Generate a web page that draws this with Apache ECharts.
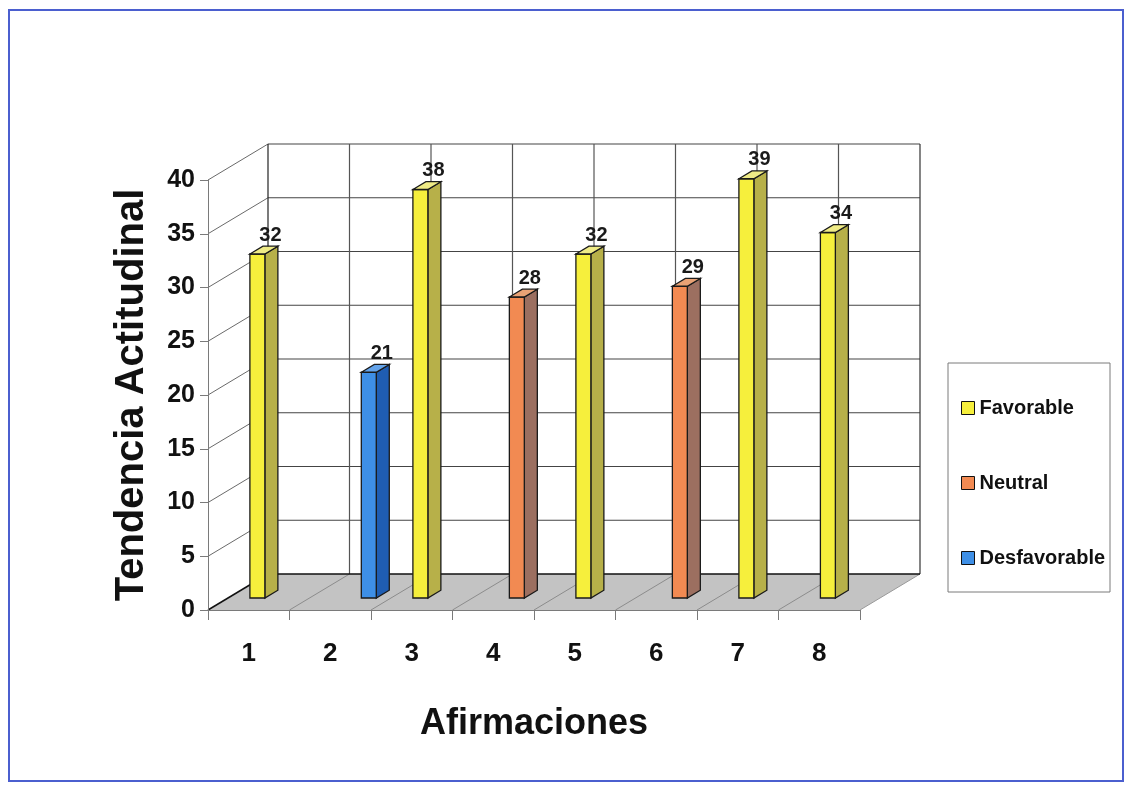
<!DOCTYPE html>
<html>
<head>
<meta charset="utf-8">
<script src="https://cdn.jsdelivr.net/npm/echarts@6/dist/echarts.min.js"></script>
<style>
html,body{margin:0;padding:0;background:#fff;}
#chart{width:1128px;height:785px;}
</style>
</head>
<body>
<div id="chart"></div>
<script>
// ---- data ----
const categories = ['1', '2', '3', '4', '5', '6', '7', '8'];
const favorable = [32, null, 38, null, 32, null, 39, 34];
const neutral = [null, null, null, 28, null, 29, null, null];
const desfavorable = [null, 21, null, null, null, null, null, null];
const yTicks = [0, 5, 10, 15, 20, 25, 30, 35, 40];
const seriesNames = ['Favorable', 'Neutral', 'Desfavorable'];

// ---- style ----
const FONT = "'Liberation Sans Narrow','Arial Narrow','Liberation Sans',Arial,sans-serif";
const DX = 60, DY = -36;        // depth projection of the floor
const F0 = 0.333, F1 = 0.55;    // bar front / back depth fractions
const SLOT_W = 0.1835, SLOT_START = -0.231;
const palette = [
  { front: '#f6ef3c', side: '#b7b049', top: '#efeb86' },
  { front: '#f28a52', side: '#9c6f60', top: '#e9a275' },
  { front: '#3e8fe6', side: '#1f5db2', top: '#63a3ea' }
];

function toData(arr) {
  const out = [];
  arr.forEach((v, i) => { if (v !== null) out.push([i, v]); });
  return out;
}

function frameRender(params, api) {
  const cs = params.coordSys;
  const x0 = cs.x, x1 = cs.x + cs.width;
  const yb = api.coord([0, yTicks[0]])[1];
  const yt = api.coord([0, yTicks[yTicks.length - 1]])[1];
  const n = categories.length, band = cs.width / n;
  const ch = [];
  const line = (a, b, c, d, stroke, w) => ch.push({ type: 'line', shape: { x1: a, y1: b, x2: c, y2: d }, style: { stroke: stroke, lineWidth: w || 1 } });
  // floor
  ch.push({ type: 'polygon', shape: { points: [[x0, yb], [x1, yb], [x1 + DX, yb + DY], [x0 + DX, yb + DY]] }, style: { fill: '#c3c3c3' } });
  for (let i = 1; i < n; i++) line(x0 + i * band, yb, x0 + i * band + DX, yb + DY, '#8c8c8c', 1);
  line(x1, yb, x1 + DX, yb + DY, '#9a9a9a', 1);
  // back wall grid
  yTicks.forEach((t, k) => {
    const y = api.coord([0, t])[1];
    if (k > 0) {
      line(x0 + DX, y + DY, x1 + DX, y + DY, '#444', 1.2);
      line(x0, y, x0 + DX, y + DY, '#6a6a6a', 1);
    }
  });
  for (let i = 1; i < n; i++) line(x0 + i * band + DX, yt + DY, x0 + i * band + DX, yb + DY, '#555', 1.2);
  // edges
  line(x0 + DX, yt + DY, x0 + DX, yb + DY, '#222', 1.2);
  line(x1 + DX, yt + DY, x1 + DX, yb + DY, '#333', 1.2);
  line(x0 + DX, yb + DY, x1 + DX, yb + DY, '#111', 1.5);
  line(x0, yb, x0 + DX, yb + DY, '#111', 1.5);
  return { type: 'group', children: ch };
}

function barRender(slot) {
  return function (params, api) {
    const idx = api.value(0), v = api.value(1);
    const base = api.coord([idx, 0]);
    const top = api.coord([idx, v]);
    const band = api.size([1, 0])[0];
    const L = base[0] + band * (SLOT_START + SLOT_W * slot);
    const R = L + band * SLOT_W;
    const dx0 = DX * F0, dy0 = DY * F0, dx1 = DX * F1, dy1 = DY * F1;
    const c = palette[slot];
    const st = (fill) => ({ fill: fill, stroke: '#1a1a1a', lineWidth: 1.3 });
    return {
      type: 'group',
      children: [
        { type: 'polygon', shape: { points: [[R + dx0, top[1] + dy0], [R + dx1, top[1] + dy1], [R + dx1, base[1] + dy1], [R + dx0, base[1] + dy0]] }, style: st(c.side) },
        { type: 'polygon', shape: { points: [[L + dx0, top[1] + dy0], [R + dx0, top[1] + dy0], [R + dx0, base[1] + dy0], [L + dx0, base[1] + dy0]] }, style: st(c.front) },
        { type: 'polygon', shape: { points: [[L + dx0, top[1] + dy0], [R + dx0, top[1] + dy0], [R + dx1, top[1] + dy1], [L + dx1, top[1] + dy1]] }, style: st(c.top) },
        { type: 'text', x: (L + R) / 2 + dx1, y: top[1] + dy1 - 1, style: { text: String(v), fontSize: 20, fontWeight: 'bold', fontFamily: FONT, fill: '#1a1a1a', align: 'center', verticalAlign: 'bottom' } }
      ]
    };
  };
}

const chart = echarts.init(document.getElementById('chart'), null, { renderer: 'canvas' });
const seriesArrays = [favorable, neutral, desfavorable];

const option = {
  animation: false,
  backgroundColor: '#ffffff',
  grid: { left: 208, right: 268, top: 180, bottom: 175 },
  xAxis: {
    type: 'category', data: categories, boundaryGap: true, z: 10,
    axisLine: { lineStyle: { color: '#7a7a7a', width: 1 } },
    axisTick: { show: true, length: 10, lineStyle: { color: '#7a7a7a' } },
    axisLabel: { margin: 31, fontSize: 26, fontWeight: 'bold', color: '#111', fontFamily: FONT },
    splitLine: { show: false },
    name: 'Afirmaciones', nameLocation: 'middle', nameGap: 96,
    nameTextStyle: { fontSize: 36, fontWeight: 'bold', color: '#111', fontFamily: FONT }
  },
  yAxis: {
    type: 'value', min: 0, max: 40, interval: 5, z: 10,
    axisLine: { show: true, lineStyle: { color: '#7a7a7a', width: 1 } },
    axisTick: { show: true, length: 8, lineStyle: { color: '#7a7a7a' } },
    axisLabel: { margin: 13, fontSize: 25, fontWeight: 'bold', color: '#111', fontFamily: FONT },
    splitLine: { show: false },
    name: 'Tendencia Actitudinal', nameLocation: 'middle', nameGap: 56, nameRotate: 90,
    nameTextStyle: { fontSize: 40, fontWeight: 'bold', color: '#111', fontFamily: FONT }
  },
  legend: {
    orient: 'vertical', left: 956, top: 393, itemGap: 55,
    itemWidth: 13, itemHeight: 13, icon: 'rect',
    data: seriesNames,
    itemStyle: { borderColor: '#111', borderWidth: 1 },
    textStyle: { fontSize: 20, fontWeight: 'bold', color: '#111', fontFamily: FONT, lineHeight: 20 }
  },
  graphic: [
    { type: 'rect', x: 9, y: 10, shape: { width: 1114, height: 771 }, style: { fill: 'none', stroke: '#4b5fcf', lineWidth: 2 }, z: 100 },
    { type: 'rect', x: 948, y: 363, shape: { width: 162, height: 229 }, style: { fill: 'none', stroke: '#7a7a7a', lineWidth: 1 }, z: 100 }
  ],
  series: [
    { type: 'custom', name: '_frame', renderItem: frameRender, data: [[0, 0]], z: 1, silent: true, clip: false, legendHoverLink: false }
  ].concat(seriesArrays.map((arr, s) => ({
    type: 'custom', name: seriesNames[s], renderItem: barRender(s), data: toData(arr),
    encode: { x: 0, y: 1 }, z: 3, clip: false,
    itemStyle: { color: palette[s].front }
  })))
};
chart.setOption(option);
</script>
</body>
</html>
